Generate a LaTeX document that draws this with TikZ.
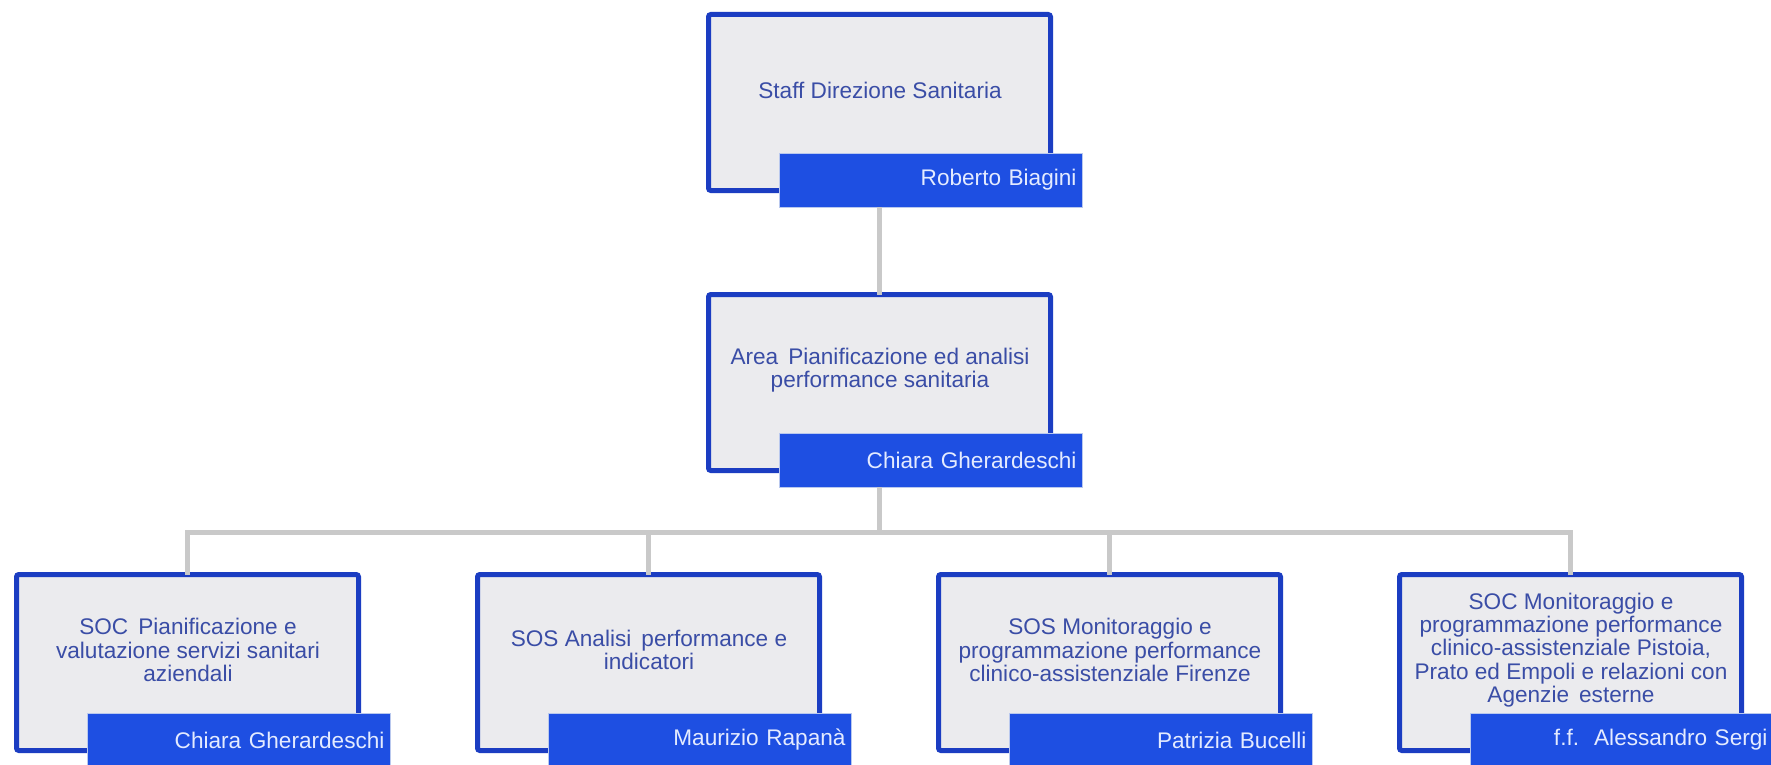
\documentclass[tikz,border=0pt]{standalone}
\usepackage{fontspec}
\setmainfont{Liberation Sans}
\usetikzlibrary{positioning}

\definecolor{frameblue}{HTML}{1B3DC2}
\definecolor{boxgray}{HTML}{EBEBEE}
\definecolor{labelblue}{HTML}{3A4DA6}
\definecolor{barblue}{HTML}{1E4FE2}
\definecolor{barline}{HTML}{B9C8EE}
\definecolor{namewhite}{HTML}{E4EBFF}
\definecolor{linkgray}{HTML}{C9C9C9}

\tikzset{
  unitbox/.style={draw=frameblue, fill=boxgray, line width=2.5pt,
    rounded corners=1.2pt, minimum width=171pt, minimum height=88pt,
    inner sep=0pt, outer sep=0pt},
  unittext/.style={text=labelblue, align=center, inner sep=0pt,
    font=\fontsize{11.3pt}{11.7pt}\selectfont},
  namebar/.style={fill=barblue, draw=barline, line width=0.4pt,
    minimum width=151.5pt, minimum height=27pt, text width=146pt,
    align=right, inner xsep=2.75pt, inner ysep=0pt, outer sep=0pt,
    text=namewhite, font=\fontsize{11.3pt}{11.7pt}\selectfont},
  link/.style={draw=linkgray, line width=2.5pt}
}

% #1 name, #2 left edge, #3 top edge, #4 unit title, #5 person
\newcommand\orgunit[5]{%
  \node[unitbox, anchor=north west] (#1) at (#2+2.5,#3+2.5) {};
  \node[unittext] (#1-t) at (#2+174,#3+78) {#4};
  \node[namebar, anchor=north west] (#1-n) at (#2+73,#3+141) {#5};
}

\begin{document}
\begin{tikzpicture}[x=0.5pt, y=-0.5pt]
  \useasboundingbox[fill=white] (0,0) rectangle (1771,765);

  \orgunit{staff}{706}{12}{Staff Direzione Sanitaria}{Roberto Biagini}
  \orgunit{area}{706}{292}{Area\, Pianificazione ed analisi\\performance sanitaria}{Chiara Gherardeschi}

  \orgunit{c1}{14}{572}{SOC\, Pianificazione e\\valutazione servizi sanitari\\aziendali}{Chiara Gherardeschi}
  \orgunit{c2}{475}{572}{SOS Analisi\, performance e\\indicatori}{Maurizio Rapanà}
  \orgunit{c3}{936}{572}{SOS Monitoraggio e\\programmazione performance\\clinico-assistenziale Firenze}{Patrizia Bucelli}
  \orgunit{c4}{1397}{572}{SOC Monitoraggio e\\programmazione performance\\clinico-assistenziale Pistoia,\\Prato ed Empoli e relazioni con\\Agenzie\, esterne}{f.f.\, Alessandro Sergi}

  % connectors
  \draw[link] (staff.south |- staff-n.south) -- (area.north);
  \coordinate (hub) at ([yshift=-22.5pt]area.south |- area-n.south);
  \draw[link] (area.south |- area-n.south) -- (hub);
  \draw[link] (c1.north) |- (hub) -| (c4.north);
  \draw[link] (hub -| c2.north) -- (c2.north);
  \draw[link] (hub -| c3.north) -- (c3.north);
\end{tikzpicture}
\end{document}
